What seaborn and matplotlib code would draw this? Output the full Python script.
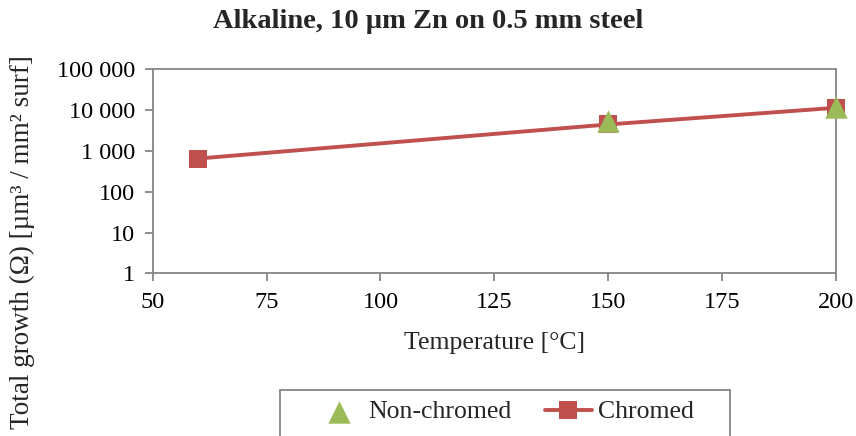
import matplotlib
matplotlib.use("Agg")
import matplotlib.pyplot as plt
import seaborn as sns
import pandas as pd
from matplotlib.ticker import FixedLocator, NullLocator
from matplotlib.patches import Rectangle

temp_chromed = [60, 150, 200]
growth_chromed = [650, 4450, 11400]
temp_nonchromed = [150, 200]
growth_nonchromed = [5350, 12000]
y_ticks = [1, 10, 100, 1000, 10000, 100000]
y_tick_labels = ["1", "10", "100", "1 000", "10 000", "100 000"]
x_ticks = [50, 75, 100, 125, 150, 175, 200]

sns.set_style("white")
plt.rcParams['font.family'] = ['Liberation Serif', 'DejaVu Serif']

W, H = 856, 436
fig = plt.figure(figsize=(W / 100, H / 100), dpi=100)
L, R, T, B = 152.7, 836, 69.3, 273.3
ax = fig.add_axes([L / W, 1 - B / H, (R - L) / W, (B - T) / H])

df_c = pd.DataFrame({"T": temp_chromed, "G": growth_chromed})
df_n = pd.DataFrame({"T": temp_nonchromed, "G": growth_nonchromed})

sns.lineplot(data=df_c, x="T", y="G", ax=ax, color="#C0504D", linewidth=2.8,
             marker="s", markersize=13.5, markeredgewidth=0, label="Chromed",
             zorder=3, clip_on=False)
sns.scatterplot(data=df_n, x="T", y="G", ax=ax, color="#9BBB59", marker="^", s=260,
                linewidth=0, label="Non-chromed", zorder=4, clip_on=False)

ax.set_yscale("log")
ax.set_ylim(1, 100000)
ax.set_xlim(50, 200)
ax.yaxis.set_major_locator(FixedLocator(y_ticks))
ax.yaxis.set_minor_locator(NullLocator())
ax.set_yticklabels(y_tick_labels)
ax.set_xticks(x_ticks)

for s in ax.spines.values():
    s.set_color("#868686")
    s.set_linewidth(1.3)
ax.tick_params(axis="both", which="major", direction="out", length=5.5, width=1.3,
               color="#868686", labelsize=17.5, labelcolor="black",
               bottom=True, left=True)
ax.tick_params(axis="y", pad=7)
ax.tick_params(axis="x", pad=8)

ax.set_xlabel("Temperature [°C]", fontsize=18.5, labelpad=14)
ax.set_ylabel("")
fig.text(22 / W, 1 - 242 / H, "Total growth (Ω) [µm³ / mm² surf]", rotation=90,
         fontsize=19.5, ha="center", va="center")

fig.text(0.5, 1 - 21 / H, "Alkaline, 10 µm Zn on 0.5 mm steel", ha="center", va="center",
         fontsize=20.5, fontweight="bold")

handles, labels = ax.get_legend_handles_labels()
order = [labels.index("Non-chromed"), labels.index("Chromed")]
if ax.get_legend():
    ax.get_legend().remove()
leg = fig.legend([handles[i] for i in order], [labels[i] for i in order],
                 loc="center left", bbox_to_anchor=(316 / W, 1 - 412 / H),
                 ncol=2, frameon=False, fontsize=18.5, borderpad=0, borderaxespad=0,
                 handlelength=1.8, handletextpad=0.25, columnspacing=1.3)
fig.add_artist(Rectangle((280 / W, -0.05), (730 - 280) / W, 0.05 + (436 - 390) / H,
                         transform=fig.transFigure, fill=False,
                         edgecolor="#868686", linewidth=1.3))

fig.savefig("out.png", dpi=100)
